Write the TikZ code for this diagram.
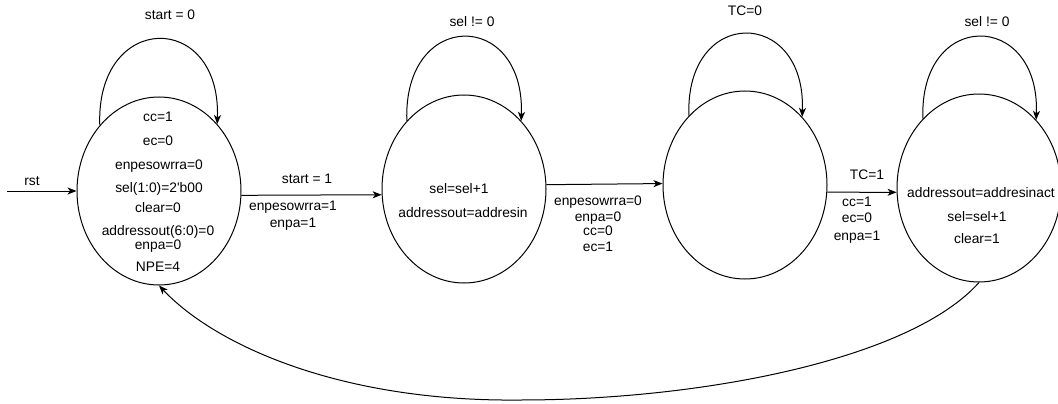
\documentclass[tikz,border=0pt]{standalone}
\usepackage{fontspec}
\setmainfont{Liberation Sans}[Ligatures=TeXOff]
\usetikzlibrary{arrows.meta,shapes.geometric}
\tikzset{
  state/.style={draw, ellipse, line width=1pt, minimum width=164pt, minimum height=188pt, inner sep=0pt},
  txt/.style={font=\fontsize{13.8}{15}\selectfont, inner sep=0pt, text height=10pt, text depth=3pt},
  arr/.style={line width=1pt, -{Stealth[length=9pt,width=7pt,inset=2.5pt]}},
}
\begin{document}
\begin{tikzpicture}[x=1pt,y=-1pt]
\useasboundingbox (0,0) rectangle (1058,404);
\fill[white] (0,0) rectangle (1058,404);
% states
\node[state] (s1) at (159,191) {};
\node[state] (s2) at (464,189) {};
\node[state] (s3) at (745,185) {};
\node[state] (s4) at (979,188) {};
% state 1 text
\node[txt] (a1) at (158,118) {cc=1};
\node[txt] (a2) at (158,142) {ec=0};
\node[txt] (a3) at (159,166) {enpesowrra=0};
\node[txt] (a4) at (159,189) {sel(1:0)=2'b00};
\node[txt] (a5) at (158,209) {clear=0};
\node[txt] (a6) at (158,232) {addressout(6:0)=0};
\node[txt] (a7) at (158,246) {enpa=0};
\node[txt] (a8) at (158,268) {NPE=4};
% state 2 text
\node[txt] (b1) at (459,190) {sel=sel+1};
\node[txt] (b2) at (463,214) {addressout=addresin};
% state 4 text
\node[txt] (d1) at (981,194) {addressout=addresinact};
\node[txt] (d2) at (977,218) {sel=sel+1};
\node[txt] (d3) at (977,240) {clear=1};
% reset
\coordinate (r0) at (7,191);
\draw[arr] (r0) -- (s1.west);
\node[txt] (rst) at (32,182) {rst};
% transitions
\draw[arr] (s1.-3) -- (s2.184);
\node[txt] (t1) at (307,180) {start = 1};
\node[txt] (t1a) at (293,207) {enpesowrra=1};
\node[txt] (t1b) at (293,224) {enpa=1};
\draw[arr] (s2.3.5) -- (s3.179.3);
\node[txt] (t2a) at (598,202) {enpesowrra=0};
\node[txt] (t2b) at (598,218) {enpa=0};
\node[txt] (t2c) at (598,232) {cc=0};
\node[txt] (t2d) at (598,248) {ec=1};
\draw[arr] (s3.-5.6) -- (s4.183.5);
\node[txt] (t3) at (867,176) {TC=1};
\node[txt] (t3a) at (857,203) {cc=1};
\node[txt] (t3b) at (857,219) {ec=0};
\node[txt] (t3c) at (857,237) {enpa=1};
% self loops
\draw[arr] (s1.132) .. controls +(-4,-114) and +(4,-114) .. (s1.49);
\node[txt] (l1) at (170,16) {start = 0};
\draw[arr] (s2.130) .. controls +(-4,-112) and +(4,-112) .. (s2.50);
\node[txt] (l2) at (472,23) {sel != 0};
\draw[arr] (s3.129) .. controls +(-4,-110) and +(4,-110) .. (s3.50);
\node[txt] (l3) at (745,12) {TC=0};
\draw[arr] (s4.129) .. controls +(-4,-110) and +(4,-110) .. (s4.50);
\node[txt] (l4) at (987,23) {sel != 0};
% return
\coordinate (bm) at (520,400);
\draw[arr] (s4.south) .. controls (910,360) and (700,400) .. (bm)
  .. controls (340,402) and (215,345) .. (s1.south);
\end{tikzpicture}
\end{document}
